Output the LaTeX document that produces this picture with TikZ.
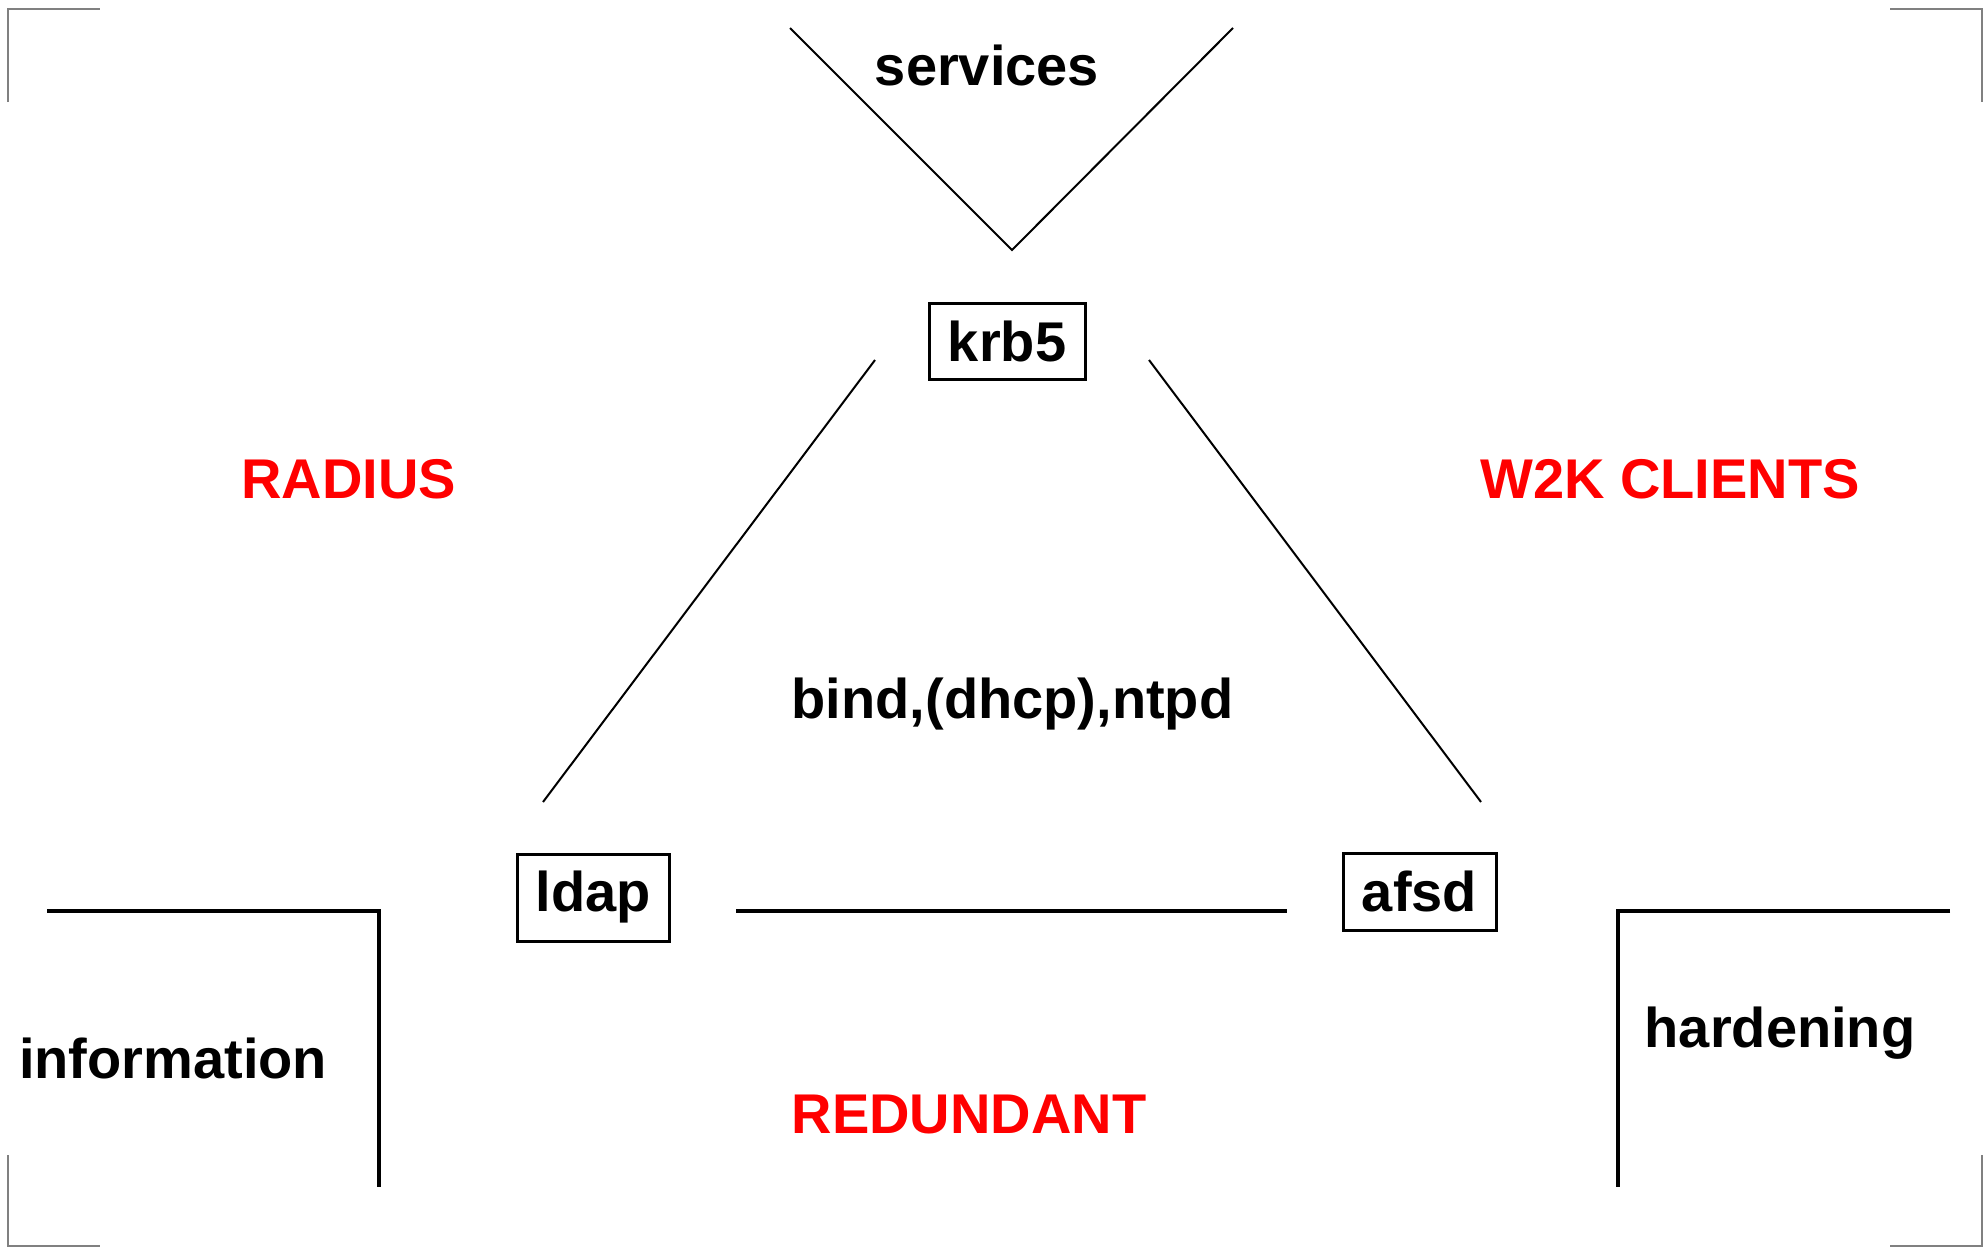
\documentclass[tikz,border=0pt]{standalone}
\usepackage{fontspec}
\setmainfont{Liberation Sans}
\begin{document}
\begin{tikzpicture}[x=0.5pt,y=-0.5pt,
  lbl/.style={font=\bfseries\fontsize{28}{33}\selectfont, inner sep=0pt, anchor=base},
  redlbl/.style={lbl, text=red},
  boxnode/.style={draw, line width=1.5pt, font=\bfseries\fontsize{28}{33}\selectfont, inner sep=0pt, anchor=center},
  thinline/.style={line width=1pt},
  thickline/.style={line width=1.6pt},
  cropmark/.style={line width=1.2pt, draw=gray}
]
\useasboundingbox (0,0) rectangle (1984,1248);
% crop marks
\draw[cropmark] (8,102) -- (8,9) -- (100,9);
\draw[cropmark] (1890,9) -- (1982,9) -- (1982,102);
\draw[cropmark] (8,1155) -- (8,1246) -- (100,1246);
\draw[cropmark] (1890,1246) -- (1982,1246) -- (1982,1155);

% nodes
\node[boxnode, minimum width=78pt, minimum height=38pt] (krb) at (1007,341) {krb5};
\node[boxnode, minimum width=76pt, minimum height=43.5pt] (ldap) at (593,897.5) {ldap};
\node[boxnode, minimum width=76.5pt, minimum height=38.5pt] (afsd) at (1419.5,891.5) {afsd};

\node[lbl] (services) at (987,85) {services};
\node[redlbl] (radius) at (348.5,498) {RADIUS};
\node[redlbl] (w2k) at (1670,498) {W2K CLIENTS};
\node[lbl] (bind) at (1012.5,718) {bind,(dhcp),ntpd};
\node[lbl] (info) at (173,1078) {information};
\node[lbl] (hard) at (1780,1047) {hardening};
\node[redlbl] (redund) at (969,1133) {REDUNDANT};

% connector end points
\coordinate (vl) at (790,28);
\coordinate (vb) at (1012,250);
\coordinate (vr) at (1233,28);
\coordinate (kl) at (875,360);
\coordinate (lk) at (543,802);
\coordinate (kr) at (1149,360);
\coordinate (ak) at (1481,802);
\coordinate (la) at (736,911);
\coordinate (al) at (1287,911);
\coordinate (ib1) at (47,911);
\coordinate (ib2) at (379,911);
\coordinate (ib3) at (379,1187);
\coordinate (hb1) at (1950,911);
\coordinate (hb2) at (1618,911);
\coordinate (hb3) at (1618,1187);

% connectors
\draw[thinline] (vl) -- (vb) -- (vr);
\draw[thinline] (kl) -- (lk);
\draw[thinline] (kr) -- (ak);
\draw[thickline] (la) -- (al);
\draw[thickline] (ib1) -- (ib2) -- (ib3);
\draw[thickline] (hb1) -- (hb2) -- (hb3);
\end{tikzpicture}
\end{document}
